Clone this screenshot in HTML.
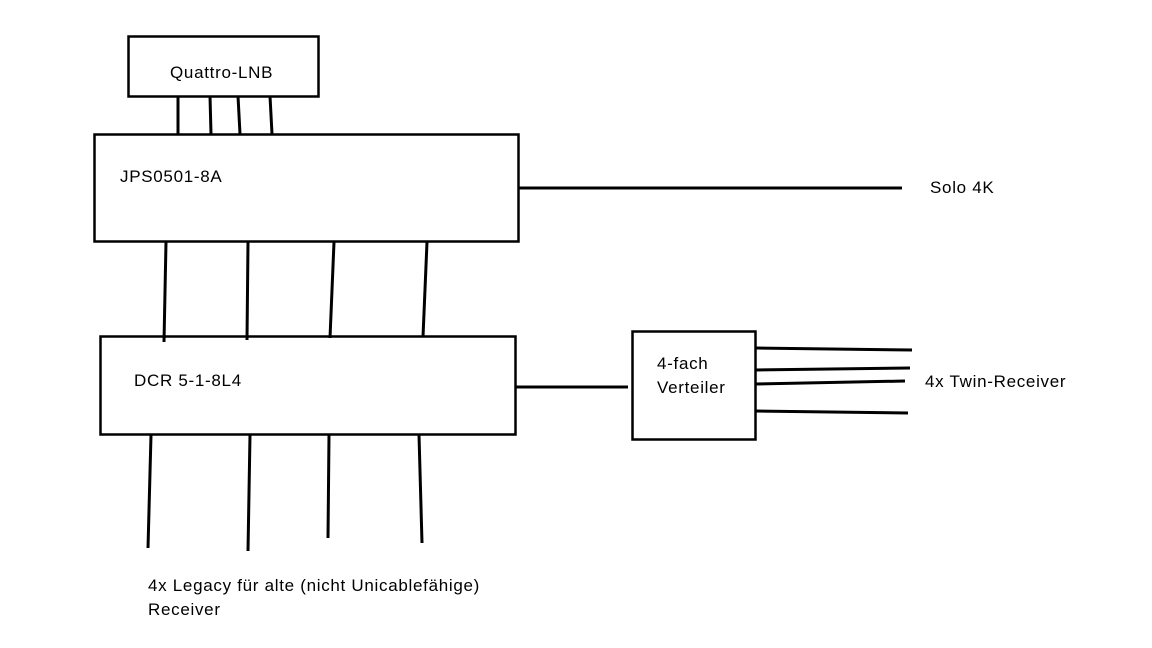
<!DOCTYPE html>
<html><head><meta charset="utf-8"><style>
html,body{margin:0;padding:0;background:#fff;width:1152px;height:648px;overflow:hidden}
svg{display:block}
text{font-family:"Liberation Sans",sans-serif;font-size:17px;letter-spacing:0.7px;fill:#000}
</style></head><body>
<svg width="1152" height="648" viewBox="0 0 1152 648">
<g fill="none" stroke="#000" stroke-width="2.5">
<rect x="128.5" y="36.5" width="190" height="60"/>
<rect x="94.5" y="134.5" width="424" height="107"/>
<rect x="100.5" y="336.5" width="415" height="98"/>
<rect x="632.5" y="331.5" width="123" height="108"/>
</g>
<g stroke="#000" stroke-width="3" fill="none">
<line x1="178" y1="96" x2="178" y2="134"/>
<line x1="210" y1="96" x2="211" y2="134"/>
<line x1="238" y1="96" x2="240" y2="134"/>
<line x1="270" y1="96" x2="272" y2="134"/>
<line x1="519" y1="188" x2="902" y2="188"/>
<line x1="166" y1="242" x2="164" y2="342"/>
<line x1="248" y1="242" x2="247" y2="340"/>
<line x1="334" y1="242" x2="330" y2="338"/>
<line x1="427" y1="242" x2="423" y2="337"/>
<line x1="516" y1="387" x2="628" y2="387"/>
<line x1="756" y1="348" x2="912" y2="350"/>
<line x1="756" y1="370" x2="910" y2="368"/>
<line x1="756" y1="384" x2="905" y2="381"/>
<line x1="756" y1="411" x2="908" y2="413"/>
<line x1="151" y1="435" x2="148" y2="548"/>
<line x1="250" y1="435" x2="248" y2="551"/>
<line x1="329" y1="435" x2="328" y2="538"/>
<line x1="419" y1="435" x2="422" y2="543"/>
</g>
<text x="170" y="78">Quattro-LNB</text>
<text x="120" y="182">JPS0501-8A</text>
<text x="930" y="193">Solo 4K</text>
<text x="134" y="386">DCR 5-1-8L4</text>
<text x="657" y="369">4-fach</text>
<text x="657" y="393">Verteiler</text>
<text x="925" y="387">4x Twin-Receiver</text>
<text x="148" y="591">4x Legacy für alte (nicht Unicablefähige)</text>
<text x="148" y="615">Receiver</text>
</svg>
</body></html>
